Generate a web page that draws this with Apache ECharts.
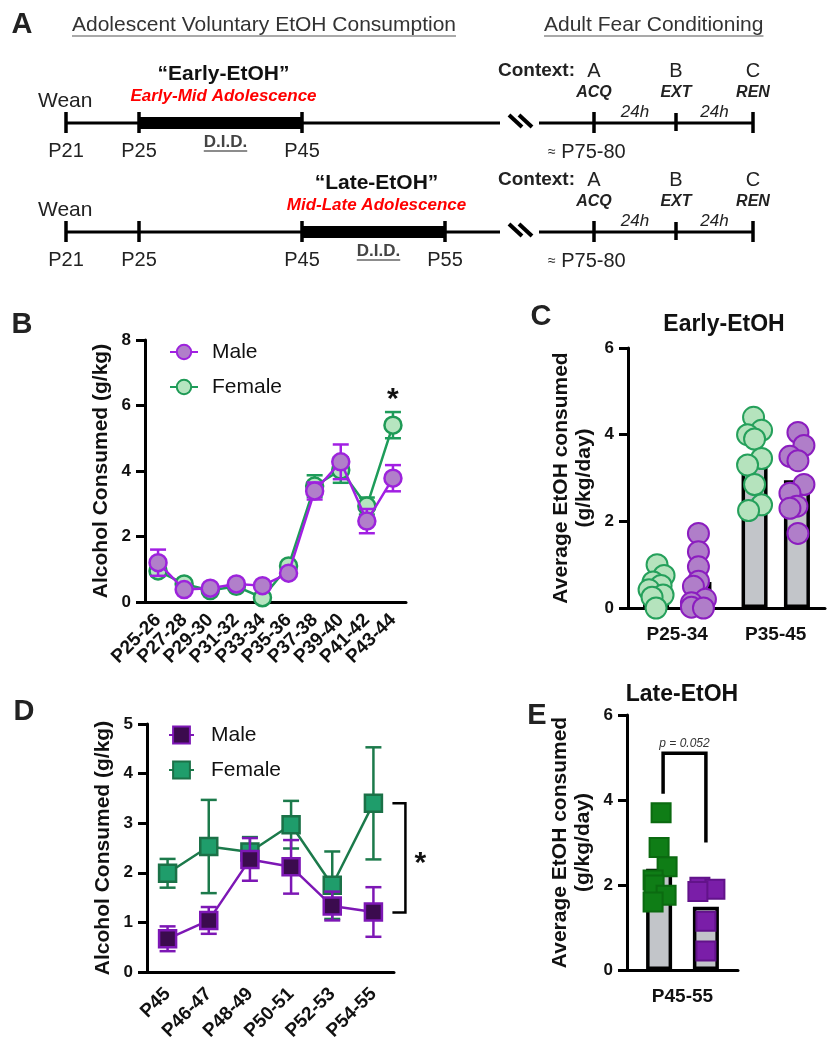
<!DOCTYPE html>
<html><head><meta charset="utf-8">
<script src="https://cdn.jsdelivr.net/npm/echarts@6/dist/echarts.min.js"></script>
<style>html,body{margin:0;padding:0;background:#fff}#c{width:837px;height:1050px}</style>
</head><body><div id="c"></div>
<script>
// ================= DATA =================
// Panel A (schematic timeline texts)
const headerLeft = 'Adolescent Voluntary EtOH Consumption';
const headerRight = 'Adult Fear Conditioning';
const rowTitles = ['“Early-EtOH”', '“Late-EtOH”'];
const rowPeriods = ['Early-Mid Adolescence', 'Mid-Late Adolescence'];
const rowTickLabels = [['P21', 'P25', 'P45'], ['P21', 'P25', 'P45', 'P55']];
const rowDidSpan = [[1, 2], [2, 3]];          // D.I.D. between these tick indices
const contextLetters = ['A', 'B', 'C'];
const contextPhases = ['ACQ', 'EXT', 'REN'];
const contextGap = '24h';
const adultAge = 'P75-80';

// Panel B
const bCategories = ['P25-26','P27-28','P29-30','P31-32','P33-34','P35-36','P37-38','P39-40','P41-42','P43-44'];
const bMaleMean   = [1.2, 0.38, 0.42, 0.55, 0.5, 0.88, 3.39, 4.28, 2.47, 3.78];
const bMaleSem    = [0.4, 0.1, 0.08, 0.08, 0.1, 0.08, 0.26, 0.53, 0.37, 0.4];
const bFemaleMean = [0.95, 0.55, 0.35, 0.48, 0.13, 1.1, 3.54, 4.03, 2.93, 5.4];
const bFemaleSem  = [0.15, 0.12, 0.08, 0.08, 0.12, 0.1, 0.33, 0.39, 0.26, 0.4];
const bStar = {index: 9, value: 6.35, text: '*'};

// Panel C
const cCategories = ['P25-34', 'P35-45'];
const cFemaleMean = [0.45, 3.3];
const cMaleMean   = [0.6, 2.95];
const cFemalePts = [[1.0, 0.75, 0.6, 0.52, 0.42, 0.3, 0.25, 0.0],
                    [4.4, 4.1, 4.0, 3.9, 3.45, 3.3, 2.85, 2.38, 2.25]];
const cMalePts   = [[1.72, 1.3, 0.95, 0.62, 0.5, 0.2, 0.12, 0.02, 0.0],
                    [4.05, 3.75, 3.5, 3.4, 2.85, 2.65, 2.35, 2.3, 1.72]];

// Panel D
const dCategories = ['P45','P46-47','P48-49','P50-51','P52-53','P54-55'];
const dMaleMean   = [0.67, 1.04, 2.27, 2.12, 1.33, 1.21];
const dMaleSem    = [0.25, 0.27, 0.43, 0.54, 0.29, 0.5];
const dFemaleMean = [1.99, 2.53, 2.42, 2.97, 1.75, 3.4];
const dFemaleSem  = [0.29, 0.94, 0.3, 0.48, 0.68, 1.13];
const dBracket = {index: 5, top: 3.4, bottom: 1.2, text: '*'};

// Panel E
const eCategories = ['P45-55'];
const eFemaleMean = [2.38];
const eMaleMean   = [1.49];
const eFemalePts = [[3.7, 2.88, 2.43, 2.12, 2.0, 1.76, 1.6]];
const eMalePts   = [[1.95, 1.9, 1.85, 1.15, 0.45]];
const eBracket = {index: 0, leftBottom: 4.15, top: 5.1, rightBottom: 3.0, text: 'p = 0.052'};

// ================= STYLE / LAYOUT =================
const FF = '"Liberation Sans", Arial, Helvetica, sans-serif';
const INK = '#111';
const cJitter = {F: [[1, 8, -3, 5, -7, 7, -4, 0], [-1, 7, -7, 0, 7, -7, 0, 7, -6]],
                 M: [[0, 0, 0, 0, -5, 7, -7, -7, 5], [1, 7, -7, 1, 7, -7, 0, -7, 1]]};
const eJitter = {F: [[2, 0, 8, -6, -5, 7, -6]], M: [[-6, 9, -8, 0, 0]]};
const colB = {M: {line: '#a21fe3', fill: '#b17fca', border: '#9d23dc'},
              F: {line: '#1e9c5a', fill: '#b6e5c0', border: '#1f9a56'}};
const colD = {M: {line: '#7d17b5', fill: '#3b0b4e', border: '#7d17b5'},
              F: {line: '#1c7a4b', fill: '#1f9d6b', border: '#1b7147'}};
const colC = {F: {fill: '#b5e3bd', border: '#25a05b'}, M: {fill: '#b07ec9', border: '#8b1dbf'}};
const colE = {F: {fill: '#0f7d16', border: '#0b6a10'}, M: {fill: '#7a1ea8', border: '#62138a'}};
const BAR_FILL = '#c2c5c9';

// ================= HELPERS =================
const mctx = document.createElement('canvas').getContext('2d');
function tw(t, size, weight, style) { mctx.font = (style||'normal') + ' ' + (weight||'normal') + ' ' + size + 'px ' + FF; return mctx.measureText(t).width; }
const G = [];
function T(x, y, text, o) {
  G.push({type: 'text', x: x, y: y, z: 50, style: Object.assign({text: text, fontFamily: FF, fontSize: 20, fill: '#222', align: 'center', verticalAlign: 'middle'}, o || {})});
}
function L(x1, y1, x2, y2, w, c) { G.push({type: 'line', z: 50, shape: {x1: x1, y1: y1, x2: x2, y2: y2}, style: {stroke: c || '#000', lineWidth: w}}); }
function R(x, y, w, h, c) { G.push({type: 'rect', z: 50, shape: {x: x, y: y, width: w, height: h}, style: {fill: c || '#000'}}); }

// ----- Panel A -----
T(22, 25, 'A', {fontSize: 29, fontWeight: 'bold', fill: '#222'});
T(72, 25, headerLeft, {fontSize: 21, fill: '#333', align: 'left'});
L(72, 36, 72 + tw(headerLeft, 21), 36, 1.2, '#555');
T(544, 25, headerRight, {fontSize: 21, fill: '#333', align: 'left'});
L(544, 36, 544 + tw(headerRight, 21), 36, 1.2, '#555');

const tickX = [66, 139, 302, 445];
const adultX = [594, 676, 753];
const rowY = [123, 232];
rowY.forEach(function (y, r) {
  const ticks = rowTickLabels[r];
  const span = rowDidSpan[r];
  const x0 = tickX[span[0]], x1 = tickX[span[1]];
  const mid = (x0 + x1) / 2;
  T(mid + 3, y - 49, rowTitles[r], {fontSize: 21, fontWeight: 'bold', fill: '#111'});
  T(mid + 3, y - 27, rowPeriods[r], {fontSize: 17, fontWeight: 'bold', fontStyle: 'italic', fill: '#ff0000'});
  T(38, y - 22, 'Wean', {fontSize: 21, align: 'left'});
  L(66, y, 500, y, 3);
  R(x0, y - 6, x1 - x0, 12);
  ticks.forEach(function (lab, i) {
    L(tickX[i], y - 11, tickX[i], y + 10, 3.5);
    T(tickX[i], y + 28, lab, {fontSize: 20});
  });
  T(mid + 5, y + 19, 'D.I.D.', {fontSize: 17, fontWeight: 'bold', fill: '#444'});
  const dw = tw('D.I.D.', 17, 'bold');
  L(mid + 5 - dw / 2, y + 28, mid + 5 + dw / 2, y + 28, 1.5, '#666');
  // break marks
  L(509, y - 8, 522, y + 4, 4);
  L(519, y - 8, 532, y + 4, 4);
  L(539, y, 753, y, 3);
  adultX.forEach(function (x, i) {
    if (i === 1) L(x, y - 10, x, y + 8, 3.5); else L(x, y - 11, x, y + 10, 3.5);
    T(x, y - 52, contextLetters[i], {fontSize: 20});
    T(x, y - 30, contextPhases[i], {fontSize: 16, fontWeight: 'bold', fontStyle: 'italic'});
    if (i > 0) T((adultX[i - 1] + x) / 2 + 0, y - 11, contextGap, {fontSize: 17, fontStyle: 'italic'});
  });
  T(575, y - 52, 'Context:', {fontSize: 19, fontWeight: 'bold', align: 'right'});
  T(548, y + 29, '{s|≈} ' + adultAge, {fontSize: 20, align: 'left', rich: {s: {fontSize: 14, fill: '#222', fontFamily: FF}}});
});

// ----- Panel letters and titles -----
T(22, 325, 'B', {fontSize: 29, fontWeight: 'bold'});
T(541, 317, 'C', {fontSize: 29, fontWeight: 'bold'});
T(724, 325, 'Early-EtOH', {fontSize: 23, fontWeight: 'bold', fill: '#111'});
T(24, 712, 'D', {fontSize: 29, fontWeight: 'bold'});
T(537, 716, 'E', {fontSize: 29, fontWeight: 'bold'});
T(682, 695, 'Late-EtOH', {fontSize: 23, fontWeight: 'bold', fill: '#111'});

// ================= AXES =================
function catAxis(grid, cats, rot, labelSize, margin) {
  return {type: 'category', gridIndex: grid, data: cats,
    axisLine: {lineStyle: {color: '#000', width: 3}},
    axisTick: {alignWithLabel: true, length: 9, lineStyle: {color: '#000', width: 3}},
    axisLabel: {rotate: rot, margin: margin, color: INK, fontFamily: FF, fontWeight: 'bold', fontSize: labelSize, interval: 0}};
}
function valAxis(grid, max, step, name, gap) {
  return {type: 'value', gridIndex: grid, min: 0, max: max, interval: step,
    name: name, nameLocation: 'middle', nameGap: gap, nameRotate: 90,
    nameTextStyle: {fontFamily: FF, fontWeight: 'bold', fontSize: 21, color: INK, lineHeight: 23},
    splitLine: {show: false},
    axisLine: {show: true, lineStyle: {color: '#000', width: 3}},
    axisTick: {show: true, length: 9, lineStyle: {color: '#000', width: 3}},
    axisLabel: {margin: 14, color: INK, fontFamily: FF, fontWeight: 'bold', fontSize: 17}};
}

// ================= SERIES HELPERS =================
function errData(mean, sem) { return mean.map(function (m, i) { return [i, m, sem[i]]; }); }
function errSeries(xi, mean, sem, color, z) {
  return {type: 'custom', xAxisIndex: xi, yAxisIndex: xi, z: z, silent: true,
    data: errData(mean, sem), encode: {x: 0, y: 1},
    renderItem: function (p, api) {
      const t = api.coord([api.value(0), api.value(1) + api.value(2)]);
      const b = api.coord([api.value(0), api.value(1) - api.value(2)]);
      const st = {stroke: color, lineWidth: 2.5};
      return {type: 'group', children: [
        {type: 'line', shape: {x1: t[0], y1: t[1], x2: b[0], y2: b[1]}, style: st},
        {type: 'line', shape: {x1: t[0] - 8, y1: t[1], x2: t[0] + 8, y2: t[1]}, style: st},
        {type: 'line', shape: {x1: b[0] - 8, y1: b[1], x2: b[0] + 8, y2: b[1]}, style: st}]};
    }};
}
function lineSeries(name, xi, mean, col, symbol, size, z) {
  return {type: 'line', name: name, xAxisIndex: xi, yAxisIndex: xi, data: mean, z: z,
    symbol: symbol, symbolSize: size, showAllSymbol: true,
    lineStyle: {color: col.line, width: 2.5},
    itemStyle: {color: col.fill, borderColor: col.border, borderWidth: 2.5, opacity: 1}};
}
function barSeries(xi, mean, bw, gap) {
  return {type: 'bar', xAxisIndex: xi, yAxisIndex: xi, data: mean, barWidth: bw, barGap: gap, z: 2,
    itemStyle: {color: BAR_FILL, borderColor: '#000', borderWidth: 3.5}};
}
function ptsSeries(xi, pts, jit, side, offset, shape, size, col, z) {
  const data = [];
  pts.forEach(function (grp, i) { grp.forEach(function (v, j) { data.push([i, v, jit[i][j]]); }); });
  return {type: 'custom', xAxisIndex: xi, yAxisIndex: xi, z: z, data: data, encode: {x: 0, y: 1},
    renderItem: function (p, api) {
      const c = api.coord([api.value(0), api.value(1)]);
      const x = c[0] + side * offset + api.value(2);
      const st = {fill: col.fill, stroke: col.border, lineWidth: 2};
      if (shape === 'circle') return {type: 'circle', shape: {cx: x, cy: c[1], r: size / 2}, style: st};
      return {type: 'rect', shape: {x: x - size / 2, y: c[1] - size / 2, width: size, height: size}, style: st};
    }};
}

const C_BW = 26, C_GAP = 0.63, E_BW = 26, E_GAP = 0.8;
const cOff = (C_BW + C_BW * C_GAP) / 2, eOff = (E_BW + E_BW * E_GAP) / 2;

const series = [
  // B
  errSeries(0, bFemaleMean, bFemaleSem, colB.F.line, 3),
  lineSeries('Female·B', 0, bFemaleMean, colB.F, 'circle', 17, 4),
  errSeries(0, bMaleMean, bMaleSem, colB.M.line, 5),
  lineSeries('Male·B', 0, bMaleMean, colB.M, 'circle', 17, 6),
  {type: 'custom', xAxisIndex: 0, yAxisIndex: 0, z: 7, data: [[bStar.index, bStar.value]], encode: {x: 0, y: 1},
    renderItem: function (p, api) { const c = api.coord([api.value(0), api.value(1)]);
      return {type: 'text', x: c[0], y: c[1] + 6, style: {text: bStar.text, fontFamily: FF, fontWeight: 'bold', fontSize: 30, fill: INK, align: 'center', verticalAlign: 'middle'}}; }},
  // C
  barSeries(1, cFemaleMean, C_BW, (C_GAP * 100) + '%'),
  barSeries(1, cMaleMean, C_BW, (C_GAP * 100) + '%'),
  ptsSeries(1, cFemalePts, cJitter.F, -1, cOff, 'circle', 21, colC.F, 5),
  ptsSeries(1, cMalePts, cJitter.M, 1, cOff, 'circle', 21, colC.M, 5),
  // D
  errSeries(2, dFemaleMean, dFemaleSem, colD.F.line, 3),
  lineSeries('Female·D', 2, dFemaleMean, colD.F, 'rect', 17, 4),
  errSeries(2, dMaleMean, dMaleSem, colD.M.line, 5),
  lineSeries('Male·D', 2, dMaleMean, colD.M, 'rect', 17, 6),
  {type: 'custom', xAxisIndex: 2, yAxisIndex: 2, z: 7, data: [[dBracket.index, dBracket.top, dBracket.bottom]], encode: {x: 0, y: 1},
    renderItem: function (p, api) {
      const t = api.coord([api.value(0), api.value(1)]), b = api.coord([api.value(0), api.value(2)]);
      const x0 = t[0] + 19, x1 = t[0] + 32;
      return {type: 'group', children: [
        {type: 'polyline', shape: {points: [[x0, t[1]], [x1, t[1]], [x1, b[1]], [x0, b[1]]]}, style: {stroke: '#000', lineWidth: 2.5, fill: null}},
        {type: 'text', x: x1 + 15, y: (t[1] + b[1]) / 2 + 6, style: {text: dBracket.text, fontFamily: FF, fontWeight: 'bold', fontSize: 30, fill: INK, align: 'center', verticalAlign: 'middle'}}]};
    }},
  // E
  barSeries(3, eFemaleMean, E_BW, (E_GAP * 100) + '%'),
  barSeries(3, eMaleMean, E_BW, (E_GAP * 100) + '%'),
  ptsSeries(3, eFemalePts, eJitter.F, -1, eOff, 'rect', 19, colE.F, 5),
  ptsSeries(3, eMalePts, eJitter.M, 1, eOff, 'rect', 19, colE.M, 5),
  {type: 'custom', xAxisIndex: 3, yAxisIndex: 3, z: 7, data: [[eBracket.index, eBracket.leftBottom, eBracket.top, eBracket.rightBottom]], encode: {x: 0, y: 1},
    renderItem: function (p, api) {
      const lb = api.coord([api.value(0), api.value(1)]), tp = api.coord([api.value(0), api.value(2)]), rb = api.coord([api.value(0), api.value(3)]);
      const xl = lb[0] - eOff + 4, xr = lb[0] + eOff;
      return {type: 'group', children: [
        {type: 'polyline', shape: {points: [[xl, lb[1]], [xl, tp[1]], [xr, tp[1]], [xr, rb[1]]]}, style: {stroke: '#000', lineWidth: 3.5, fill: null}},
        {type: 'text', x: (xl + xr) / 2, y: tp[1] - 10, style: {text: eBracket.text, fontFamily: FF, fontStyle: 'italic', fontSize: 12, fill: '#333', align: 'center', verticalAlign: 'middle'}}]};
    }}
];

const legendBase = {orient: 'vertical', padding: 0, selectedMode: false,
  textStyle: {fontFamily: FF, fontSize: 21, color: INK, lineHeight: 22, padding: [0, 0, 0, 9]},
  formatter: function (n) { return n.split('·')[0]; }};

const option = {
  animation: false,
  backgroundColor: '#fff',
  grid: [
    {left: 145, top: 340, width: 261, height: 262},
    {left: 628, top: 348, width: 197, height: 260},
    {left: 147, top: 724, width: 247, height: 248},
    {left: 627, top: 715, width: 111, height: 255}
  ],
  xAxis: [catAxis(0, bCategories, 45, 19, 15), catAxis(1, cCategories, 0, 19, 17),
          catAxis(2, dCategories, 45, 19, 19), catAxis(3, eCategories, 0, 19, 17)],
  yAxis: [valAxis(0, 8, 2, 'Alcohol Consumed (g/kg)', 32),
          valAxis(1, 6, 2, 'Average EtOH consumed\n(g/kg/day)', 32),
          valAxis(2, 5, 1, 'Alcohol Consumed (g/kg)', 32),
          valAxis(3, 6, 2, 'Average EtOH consumed\n(g/kg/day)', 32)],
  legend: [
    Object.assign({}, legendBase, {data: ['Male·B', 'Female·B'], left: 169, top: 341, itemWidth: 28, itemHeight: 18, itemGap: 13}),
    Object.assign({}, legendBase, {data: ['Male·D', 'Female·D'], left: 168, top: 724, itemWidth: 25, itemHeight: 21, itemGap: 13, textStyle: Object.assign({}, legendBase.textStyle, {padding: [0, 0, 0, 12]})})
  ],
  graphic: G,
  series: series
};
const chart = echarts.init(document.getElementById('c'), null, {renderer: 'canvas'});
chart.setOption(option);
</script></body></html>
